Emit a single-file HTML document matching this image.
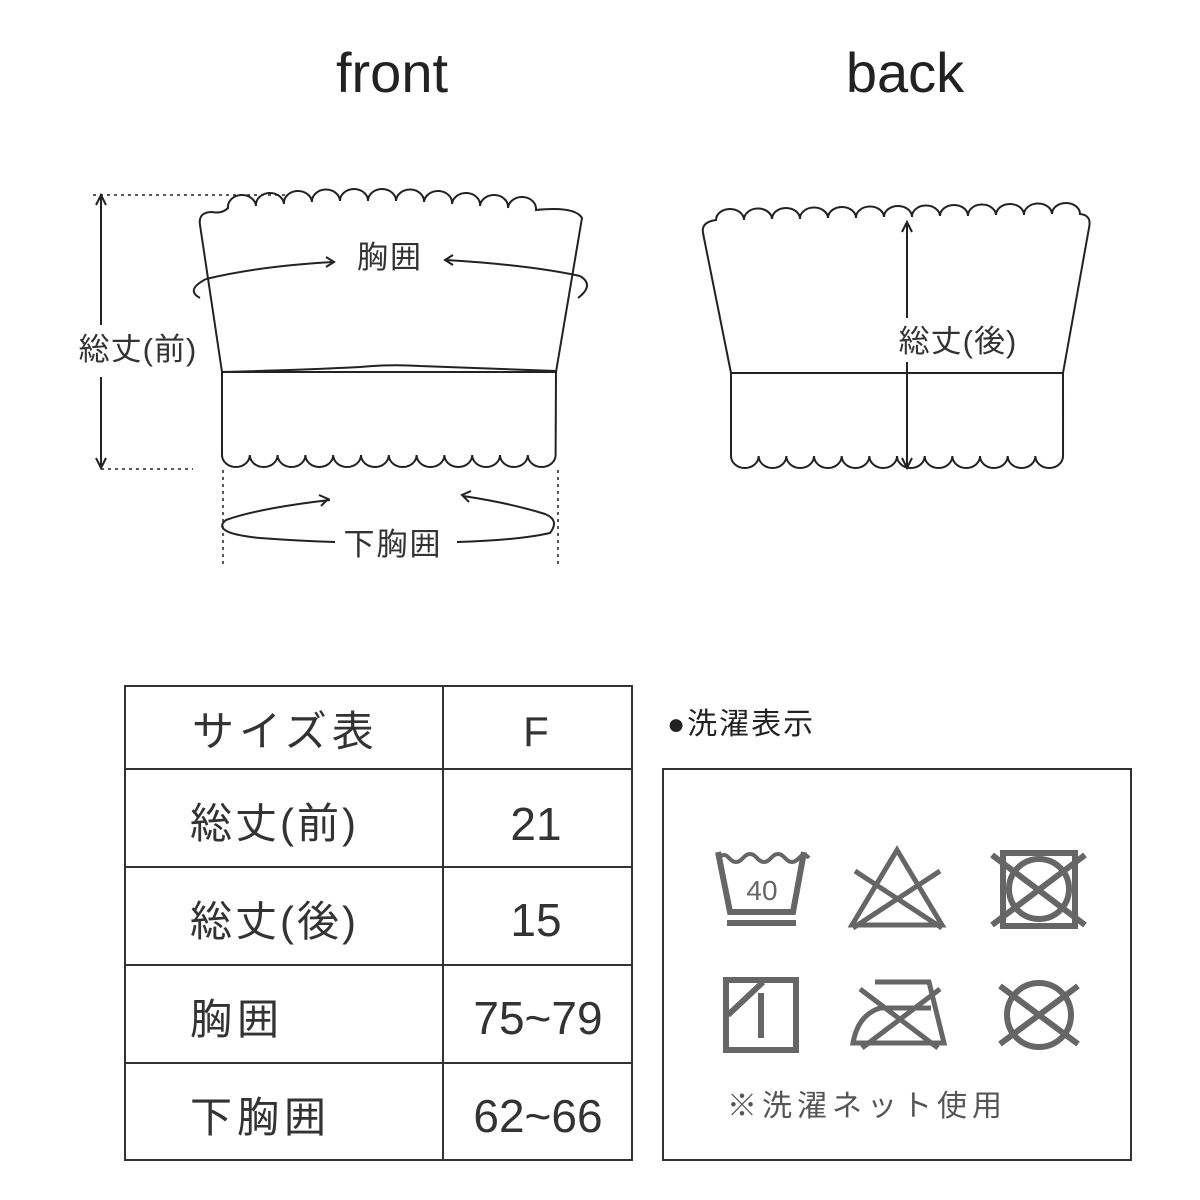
<!DOCTYPE html><html><head><meta charset="utf-8"><style>body{margin:0;background:#fff}svg{display:block}text{font-family:"Liberation Sans","Noto Sans CJK JP",sans-serif}</style></head><body>
<svg width="1200" height="1200" viewBox="0 0 1200 1200">
<g fill="#222" font-size="56"><text x="392" y="92" text-anchor="middle">front</text><text x="905" y="92" text-anchor="middle">back</text></g>
<g fill="none" stroke="#222" stroke-width="2">
<path d="M222,372 L200,225 Q198,212 212,212 Q222,214 228,208 a14,12 0 0 1 28,-2 a14,12 0 0 1 28,-2 a14,12 0 0 1 28,-2 a14,12 0 0 1 28,-1 a14,12 0 0 1 28,0 a14,12 0 0 1 28,0 a14,12 0 0 1 28,1 a14,12 0 0 1 28,2 a14,12 0 0 1 28,2 a14,12 0 0 1 28,2 a14,12 0 0 1 28,2 Q575,206 582,218 L556,372 Z"/>
<path d="M222,372 L222,455 a13.9,12 0 0 0 27.8,0 a13.9,12 0 0 0 27.8,0 a13.9,12 0 0 0 27.8,0 a13.9,12 0 0 0 27.8,0 a13.9,12 0 0 0 27.8,0 a13.9,12 0 0 0 27.8,0 a13.9,12 0 0 0 27.8,0 a13.9,12 0 0 0 27.8,0 a13.9,12 0 0 0 27.8,0 a13.9,12 0 0 0 27.8,0 a13.9,12 0 0 0 27.8,0 a13.9,12 0 0 0 27.8,0 L556,372"/>
<path d="M222,372 Q300,370 360,367 Q390,364 420,366 L556,371"/>
<path d="M206,279 Q185,290 200,298 M580,276 Q595,285 578,298"/>
<path d="M206,279 Q260,266 333,262 M446,260 Q530,265 580,276"/>
<path d="M326,257 L334,262 L326,267 M453,255 L445,260 L453,265"/>
<path d="M330,500 Q260,508 226,520 Q210,533 260,538 Q300,541 335,542 M457,542 Q520,540 550,533 Q560,520 545,514 Q510,503 463,496"/>
<path d="M319,495 L328,499 L321,506 M471,491 L462,495 L469,502"/>
<path d="M101,195 L101,325 M101,377 L101,468 M96,205 L101,195 L106,205 M96,458 L101,468 L106,458"/>
<path stroke-dasharray="3,4" stroke-width="1.5" d="M93,195 L288,195 M101,469 L193,469 M223,470 L223,565 M558,470 L558,565"/>
<path d="M731,373 L703,233 Q701,222 716,220 a14,11 0 0 1 28,0 a14,11 0 0 1 28,-1 a14,11 0 0 1 28,0 a14,11 0 0 1 28,-1 a14,11 0 0 1 28,0 a14,11 0 0 1 28,-1 a14,11 0 0 1 28,0 a14,11 0 0 1 28,-1 a14,11 0 0 1 28,0 a14,11 0 0 1 28,-1 a14,11 0 0 1 28,0 a14,11 0 0 1 28,-1 a14,11 0 0 1 28,0 Q1092,215 1089,228 L1063,373 Z"/>
<path d="M731,373 L731,456 a13.83,12 0 0 0 27.67,0 a13.83,12 0 0 0 27.67,0 a13.83,12 0 0 0 27.67,0 a13.83,12 0 0 0 27.67,0 a13.83,12 0 0 0 27.67,0 a13.83,12 0 0 0 27.67,0 a13.83,12 0 0 0 27.67,0 a13.83,12 0 0 0 27.67,0 a13.83,12 0 0 0 27.67,0 a13.83,12 0 0 0 27.67,0 a13.83,12 0 0 0 27.67,0 a13.83,12 0 0 0 27.67,0 L1063,373"/>
<path d="M907,222 L907,318 M907,362 L907,468 M902,232 L907,222 L912,232 M902,458 L907,468 L912,458"/>
</g>
<g fill="#333" font-size="31">
<text x="390" y="268" text-anchor="middle" letter-spacing="2">胸囲</text>
<text x="393" y="555" text-anchor="middle" letter-spacing="2">下胸囲</text>
<text x="138" y="360" text-anchor="middle" letter-spacing="1">総丈(前)</text>
<text x="958" y="352" text-anchor="middle" letter-spacing="1">総丈(後)</text>
</g>
<g fill="none" stroke="#333" stroke-width="2">
<rect x="125" y="686" width="507" height="474"/>
<path d="M443,686 V1160 M125,769 H632 M125,867 H632 M125,965 H632 M125,1063 H632"/>
<rect x="663" y="769" width="468" height="391"/>
</g>
<g fill="#333" font-size="42">
<text x="192" y="746" letter-spacing="5">サイズ表</text><text x="536" y="746" text-anchor="middle">F</text>
<text x="190" y="838" letter-spacing="3">総丈(前)</text><text x="536" y="840" text-anchor="middle" font-size="46">21</text>
<text x="190" y="936" letter-spacing="3">総丈(後)</text><text x="536" y="936" text-anchor="middle" font-size="46">15</text>
<text x="190" y="1034" letter-spacing="5">胸囲</text><text x="538" y="1034" text-anchor="middle" font-size="46">75~79</text>
<text x="190" y="1132" letter-spacing="5">下胸囲</text><text x="538" y="1132" text-anchor="middle" font-size="46">62~66</text>
</g>
<text x="667" y="734" font-size="30" fill="#222" letter-spacing="2">●洗濯表示</text>
<text x="727" y="1116" font-size="30" fill="#555" letter-spacing="5">※洗濯ネット使用</text>
<g fill="none" stroke="#666" stroke-width="6">
<path d="M718,852 L730,912 L793,912 L804,852"/>
<path d="M719,858 q5,-6 10,0 q7,8 14,0 q7,-8 14,0 q7,8 14,0 q7,-8 14,0 q7,8 14,0 q5,-6 10,0" stroke-width="4"/>
<path d="M727,923 H796"/>
<path d="M852,925 L897,850 L942,925 Z M855,871 L942,928 M940,871 L853,928" stroke-width="5"/>
<rect x="1003" y="853" width="72" height="73"/>
<circle cx="1039" cy="889" r="30"/>
<path d="M992,855 L1085,925 M1085,855 L992,925"/>
<rect x="726" y="980" width="70" height="70"/>
<path d="M728,1015 L763,982 M761,993 V1038"/>
<path d="M875,982 H929 L944,1043 H853 Q858,1015 880,1008 H931" stroke-width="5"/>
<path d="M860,989 L938,1048 M940,989 L862,1048" stroke-width="5"/>
<circle cx="1039" cy="1015" r="32"/>
<path d="M1000,986 L1078,1044 M1078,986 L1000,1044"/>
</g>
<text x="762" y="900" font-size="28" fill="#666" text-anchor="middle">40</text>
</svg></body></html>
